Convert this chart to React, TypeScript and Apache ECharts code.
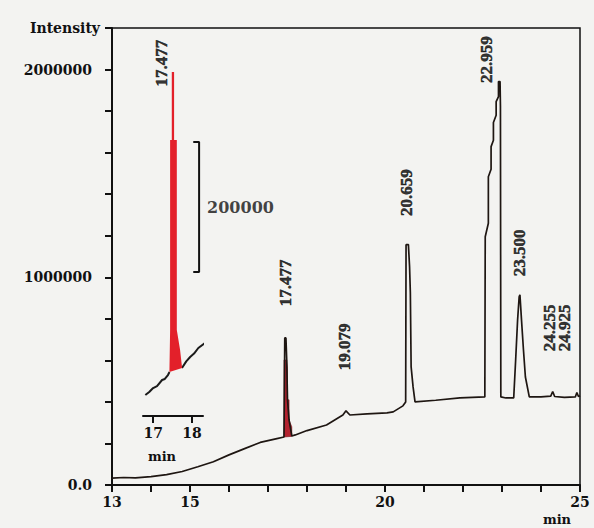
import React, { useEffect, useRef } from 'react';
import * as echarts from 'echarts';

// Main chromatogram trace (retention time in min, intensity)
const traceTime = [
  13.0, 13.3, 13.6, 14.0, 14.4, 14.8, 15.2, 15.6, 16.0, 16.4, 16.8, 17.2, 17.41, 17.43, 17.46, 17.48,
  17.5, 17.54, 17.61, 17.7, 18.0, 18.5, 18.92, 19.0, 19.1, 19.54, 20.05, 20.21, 20.46, 20.53, 20.54,
  20.6, 20.63, 20.65, 20.67, 20.72, 20.77, 21.3, 21.92, 22.56, 22.57, 22.65, 22.65, 22.72, 22.72,
  22.78, 22.78, 22.85, 22.85, 22.91, 22.91, 22.95, 22.96, 22.97, 23.1, 23.3, 23.35, 23.4, 23.44, 23.46,
  23.5, 23.55, 23.6, 23.7, 24.0, 24.25, 24.3, 24.35, 24.6, 24.88, 24.92, 24.96, 25.0,
];
const traceIntensity = [
  33000, 36000, 34000, 40000, 50000, 65000, 88000, 112000, 145000, 175000, 205000, 222000, 231000, 708000, 708000, 602000,
  410000, 313000, 236000, 241000, 262000, 289000, 337000, 357000, 337000, 342000, 347000, 352000, 381000, 400000, 1157000,
  1157000, 1051000, 925000, 569000, 472000, 400000, 408000, 419000, 424000, 1195000, 1260000, 1484000, 1520000, 1629000,
  1660000, 1745000, 1780000, 1846000, 1870000, 1942000, 1942000, 1822000, 424000, 419000, 419000, 602000, 795000, 906000, 916000,
  795000, 651000, 520000, 424000, 424000, 428000, 450000, 426000, 422000, 424000, 445000, 426000, 430000,
];

// Red filled area of the 17.477 peak in the main trace
const peakFillTime = [17.41, 17.41, 17.48, 17.5, 17.5, 17.54, 17.54, 17.61, 17.61];
const peakFillIntensity = [231000, 602000, 602000, 560000, 410000, 410000, 313000, 280000, 234000];

// Inset (enlarged 17.477 peak)
const insetLeftTime = [16.8, 16.9, 17.0, 17.1, 17.23, 17.3, 17.38, 17.42];
const insetLeftIntensity = [32300, 37000, 43000, 46000, 55400, 57000, 63000, 67700];
const insetRightTime = [17.74, 17.85, 17.95, 18.05, 18.16, 18.33];
const insetRightIntensity = [73800, 84000, 90800, 96000, 104600, 112300];
const insetPeakTime = [17.418, 17.436, 17.436, 17.479, 17.479, 17.538, 17.538, 17.608, 17.608, 17.692, 17.744];
const insetPeakIntensity = [67700, 132300, 424600, 424600, 529200, 529200, 424600, 424600, 132300, 101500, 73800];
const scaleBarTime = [18.03, 18.18, 18.18, 18.03];
const scaleBarIntensity = [421500, 421500, 221500, 221500];
const scaleBarLabel = '200000';

// Peak labels
const peakLabels = ['17.477', '19.079', '20.659', '22.959', '23.500', '24.255', '24.925'];
const peakLabelTime = [17.46, 18.95, 20.54, 22.59, 23.44, 24.22, 24.6];
const peakLabelIntensity = [973000, 665000, 1407000, 2048000, 1118000, 757000, 757000];
const insetLabel = '17.477';
const insetLabelTime = 17.205;
const insetLabelIntensity = 543000;

const xLabels = [13, 15, 20, 25];
const yLabels = [0, 1000000, 2000000];

const axisFont = 'DejaVu Serif';
const peakFont = 'Liberation Serif';

export default function App() {
  const ref = useRef<HTMLDivElement>(null);
  useEffect(() => {
    if (!ref.current) return;
    const chart = echarts.init(ref.current, undefined, { renderer: 'svg' });
    const pair = (t: number[], v: number[]) => t.map((x, i) => [x, v[i]]);
    const labelStyle = {
      show: true,
      rotate: 90,
      position: 'inside',
      fontFamily: peakFont,
      fontWeight: 'bold',
      fontSize: 17,
      color: '#000',
      textBorderColor: '#000',
      textBorderWidth: 0.5,
      formatter: (p: any) => p.value[2],
    };
    chart.setOption({
      animation: false,
      backgroundColor: '#f3f3f1',
      grid: [
        { left: 112, right: 14, top: 28, bottom: 43, show: true, borderColor: '#111', borderWidth: 1.5 },
        { left: 143, width: 60, top: 26, height: 390 },
      ],
      xAxis: [
        {
          type: 'value',
          min: 13,
          max: 25,
          interval: 1,
          gridIndex: 0,
          axisLine: { onZero: false, lineStyle: { color: '#111', width: 2 } },
          axisTick: { inside: false, length: 7, lineStyle: { color: '#111', width: 2 } },
          splitLine: { show: false },
          axisLabel: {
            margin: 10,
            fontFamily: axisFont,
            fontWeight: 'bold',
            fontSize: 14,
            color: '#111',
            formatter: (v: number) => (xLabels.includes(v) ? String(v) : ''),
          },
        },
        {
          type: 'value',
          gridIndex: 1,
          min: 16.74,
          max: 18.28,
          axisLine: { onZero: false, lineStyle: { color: '#111', width: 2 } },
          axisTick: { customValues: [17, 18], length: 7, lineStyle: { color: '#111', width: 2 } },
          splitLine: { show: false },
          axisLabel: {
            customValues: [17, 18],
            margin: 10,
            fontFamily: axisFont,
            fontWeight: 'bold',
            fontSize: 14,
            color: '#111',
          },
        },
      ],
      yAxis: [
        {
          type: 'value',
          min: 0,
          max: 2200000,
          interval: 200000,
          gridIndex: 0,
          name: 'Intensity',
          nameLocation: 'end',
          nameGap: 0,
          nameTextStyle: {
            align: 'right',
            verticalAlign: 'middle',
            padding: [0, 12, 0, 0],
            fontFamily: axisFont,
            fontWeight: 'bold',
            fontSize: 14,
            color: '#111',
          },
          axisLine: { show: true, lineStyle: { color: '#111', width: 2 } },
          axisTick: { show: true, length: 7, lineStyle: { color: '#111', width: 2 } },
          splitLine: { show: false },
          axisLabel: {
            margin: 20,
            fontFamily: axisFont,
            fontWeight: 'bold',
            fontSize: 14,
            color: '#111',
            formatter: (v: number) => (v === 0 ? '0.0' : yLabels.includes(v) ? String(v) : ''),
          },
        },
        { type: 'value', gridIndex: 1, min: 0, max: 600000, show: false },
      ],
      series: [
        {
          type: 'custom',
          xAxisIndex: 0,
          yAxisIndex: 0,
          z: 1,
          data: [[peakFillTime[0], peakFillIntensity[0]]],
          renderItem: (_p: any, api: any) => ({
            type: 'polygon',
            shape: { points: peakFillTime.map((t, i) => api.coord([t, peakFillIntensity[i]])) },
            style: { fill: '#b3222f', stroke: '#7a1820', lineWidth: 0.6 },
          }),
        },
        {
          type: 'line',
          xAxisIndex: 0,
          yAxisIndex: 0,
          z: 3,
          data: pair(traceTime, traceIntensity),
          showSymbol: false,
          symbol: 'none',
          lineStyle: { color: '#1e1612', width: 1.7 },
        },
        {
          type: 'scatter',
          xAxisIndex: 0,
          yAxisIndex: 0,
          symbolSize: 0,
          z: 4,
          data: peakLabels.map((l, i) => [peakLabelTime[i], peakLabelIntensity[i], l]),
          label: labelStyle,
        },
        {
          type: 'line',
          xAxisIndex: 1,
          yAxisIndex: 1,
          clip: false,
          z: 3,
          data: pair(insetLeftTime, insetLeftIntensity),
          symbol: 'none',
          lineStyle: { color: '#1a1a1a', width: 2 },
        },
        {
          type: 'line',
          xAxisIndex: 1,
          yAxisIndex: 1,
          clip: false,
          z: 3,
          data: pair(insetRightTime, insetRightIntensity),
          symbol: 'none',
          lineStyle: { color: '#1a1a1a', width: 2 },
        },
        {
          type: 'custom',
          xAxisIndex: 1,
          yAxisIndex: 1,
          z: 4,
          data: [[insetPeakTime[0], insetPeakIntensity[0]]],
          renderItem: (_p: any, api: any) => ({
            type: 'polygon',
            shape: { points: insetPeakTime.map((t, i) => api.coord([t, insetPeakIntensity[i]])) },
            style: { fill: '#e3202a' },
          }),
        },
        {
          type: 'line',
          xAxisIndex: 1,
          yAxisIndex: 1,
          clip: false,
          z: 3,
          data: pair(scaleBarTime, scaleBarIntensity),
          symbol: 'none',
          lineStyle: { color: '#111', width: 2 },
        },
        {
          type: 'scatter',
          xAxisIndex: 1,
          yAxisIndex: 1,
          symbolSize: 0,
          z: 4,
          data: [[scaleBarTime[1], (scaleBarIntensity[1] + scaleBarIntensity[2]) / 2, scaleBarLabel]],
          label: {
            show: true,
            position: 'right',
            distance: 8,
            fontFamily: axisFont,
            fontWeight: 'bold',
            fontSize: 16,
            color: '#111',
            formatter: (p: any) => p.value[2],
          },
        },
        {
          type: 'scatter',
          xAxisIndex: 1,
          yAxisIndex: 1,
          symbolSize: 0,
          z: 4,
          data: [[insetLabelTime, insetLabelIntensity, insetLabel]],
          label: labelStyle,
        },
      ],
      graphic: [
        {
          type: 'text',
          x: 557,
          y: 519,
          style: { text: 'min', fontFamily: axisFont, fontWeight: 'bold', fontSize: 13, fill: '#111', align: 'center', verticalAlign: 'middle' },
        },
        {
          type: 'text',
          x: 162,
          y: 456,
          style: { text: 'min', fontFamily: axisFont, fontWeight: 'bold', fontSize: 13, fill: '#111', align: 'center', verticalAlign: 'middle' },
        },
      ],
    });
    return () => chart.dispose();
  }, []);
  return <div ref={ref} style={{ position: 'absolute', left: 0, top: 0, width: 594, height: 528 }} />;
}
